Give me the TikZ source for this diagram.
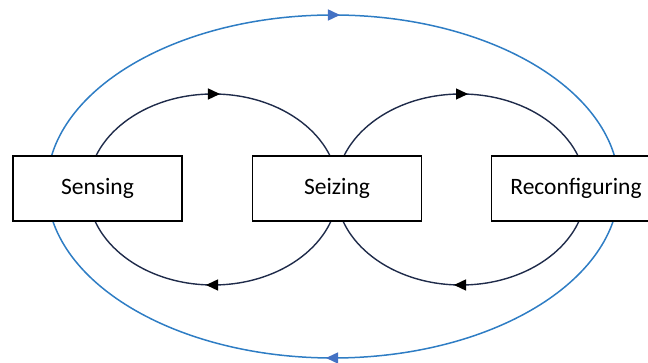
\documentclass[tikz,border=0pt]{standalone}
\usepackage{fontspec}
\setmainfont{Carlito}
\usetikzlibrary{arrows.meta,decorations.markings}
\definecolor{outerline}{HTML}{2E7DC4}
\definecolor{outertip}{HTML}{4472C4}
\definecolor{innerline}{HTML}{1F2B4A}
\tikzset{
  stagebox/.style={draw=black, line width=1.4pt, fill=white, minimum width=169pt,
    minimum height=65pt, inner sep=0pt, font=\fontsize{23.5}{28}\selectfont},
  outerloop/.style={draw=outerline, line width=1.5pt, postaction={decorate},
    decoration={markings,
      mark=at position 0.25 with {\pgftransformxshift{-7pt}\arrowreversed{Triangle[length=12pt,width=11pt,color=outertip]}},
      mark=at position 0.75 with {\pgftransformxshift{-7pt}\arrowreversed{Triangle[length=12pt,width=11pt,color=outertip]}}}},
  innerloop/.style={draw=innerline, line width=1.4pt, postaction={decorate},
    decoration={markings,
      mark=at position 0.25 with {\pgftransformxshift{-7pt}\arrowreversed{Triangle[length=12pt,width=11pt,color=black]}},
      mark=at position 0.75 with {\pgftransformxshift{-7pt}\arrowreversed{Triangle[length=12pt,width=11pt,color=black]}}}}
}
\begin{document}
\begin{tikzpicture}[x=1pt,y=1pt]
  \useasboundingbox (0,0) rectangle (648,363);
  \clip (0,0) rectangle (648,363);
  % loop centres
  \coordinate (outerc) at (333,176.5);
  \coordinate (leftc) at (213,173.5);
  \coordinate (rightc) at (461,173.5);
  % feedback loops, clockwise
  \path[outerloop] (outerc) ellipse [x radius=286, y radius=171.5];
  \path[innerloop] (leftc) ellipse [x radius=125, y radius=95.5];
  \path[innerloop] (rightc) ellipse [x radius=125, y radius=95.5];
  % stages
  \node[stagebox] (sensing) at (97.5,174.5) {Sensing};
  \node[stagebox] (seizing) at (337,174.5) {Seizing};
  \node[stagebox] (reconf) at (576,174.5) {Reconfiguring};
\end{tikzpicture}
\end{document}
